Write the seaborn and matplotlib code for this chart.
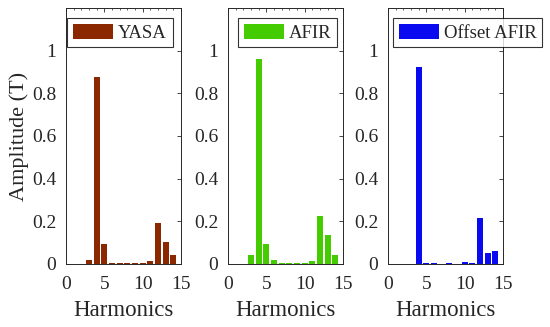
import numpy as np
import pandas as pd
import matplotlib
matplotlib.use("Agg")
import matplotlib.pyplot as plt
from matplotlib.ticker import MultipleLocator
import seaborn as sns

harmonics = list(range(1, 15))
yasa = [0.002, 0.002, 0.02, 0.875, 0.095, 0.003, 0.005, 0.005, 0.003, 0.003, 0.012, 0.19, 0.105, 0.04]
afir = [0.002, 0.002, 0.04, 0.96, 0.095, 0.02, 0.003, 0.003, 0.003, 0.003, 0.015, 0.225, 0.135, 0.04]
offset_afir = [0.001, 0.001, 0.001, 0.925, 0.005, 0.007, 0.002, 0.005, 0.002, 0.008, 0.005, 0.215, 0.05, 0.06]
series_names = ["YASA", "AFIR", "Offset AFIR"]
colors = ["#8c2800", "#44cc00", "#0a0af0"]
xticks = [0, 5, 10, 15]
yticks = [0, 0.2, 0.4, 0.6, 0.8, 1]
yticklabels = ["0", "0.2", "0.4", "0.6", "0.8", "1"]

sns.set_style("white")
plt.rcParams["font.family"] = ["Liberation Serif", "DejaVu Serif"]

fig = plt.figure(figsize=(5.5, 3.27), dpi=100)
lefts = [66, 228, 388]
leg_x = [0.01, 0.087, 0.043]
W, H = 550, 327
for i, (vals, name, col) in enumerate(zip([yasa, afir, offset_afir], series_names, colors)):
    ax = fig.add_axes([lefts[i] / W, (327 - 264) / H, 115 / W, 256 / H])
    df = pd.DataFrame({"h": harmonics, "v": vals})
    sns.barplot(data=df, x="h", y="v", native_scale=True, color=col, saturation=1,
                width=0.8, errorbar=None, label=name, linewidth=0, ax=ax)
    ax.set_xlim(0, 15)
    ax.set_ylim(0, 1.2)
    ax.set_xticks(xticks)
    ax.set_xticklabels([str(t) for t in xticks])
    ax.xaxis.set_minor_locator(MultipleLocator(1))
    ax.set_yticks(yticks)
    ax.set_yticklabels(yticklabels)
    ax.tick_params(which="major", direction="in", length=3, width=0.6, top=True, right=True,
                   labelsize=14, colors="#262626")
    ax.tick_params(axis="x", which="major", pad=8.5)
    ax.tick_params(axis="y", which="major", pad=7)
    ax.tick_params(which="minor", direction="in", length=1.6, width=0.5, top=True,
                   colors="#262626")
    for sp in ax.spines.values():
        sp.set_visible(True)
        sp.set_linewidth(0.7)
        sp.set_color("#262626")
    ax.set_xlabel("Harmonics", fontsize=16.5, color="#262626", labelpad=5)
    if i == 0:
        ax.set_ylabel("Amplitude (T)", fontsize=16, color="#262626", labelpad=2)
    else:
        ax.set_ylabel("")
    leg = ax.legend(loc="upper left", bbox_to_anchor=(leg_x[i], 0.961), fontsize=13.5,
                    frameon=True, fancybox=False, edgecolor="black",
                    handlelength=2.15, handleheight=0.85, handletextpad=0.27,
                    borderpad=0.3, borderaxespad=0)
    leg.get_frame().set_linewidth(0.8)

fig.savefig("out.png", dpi=100)
